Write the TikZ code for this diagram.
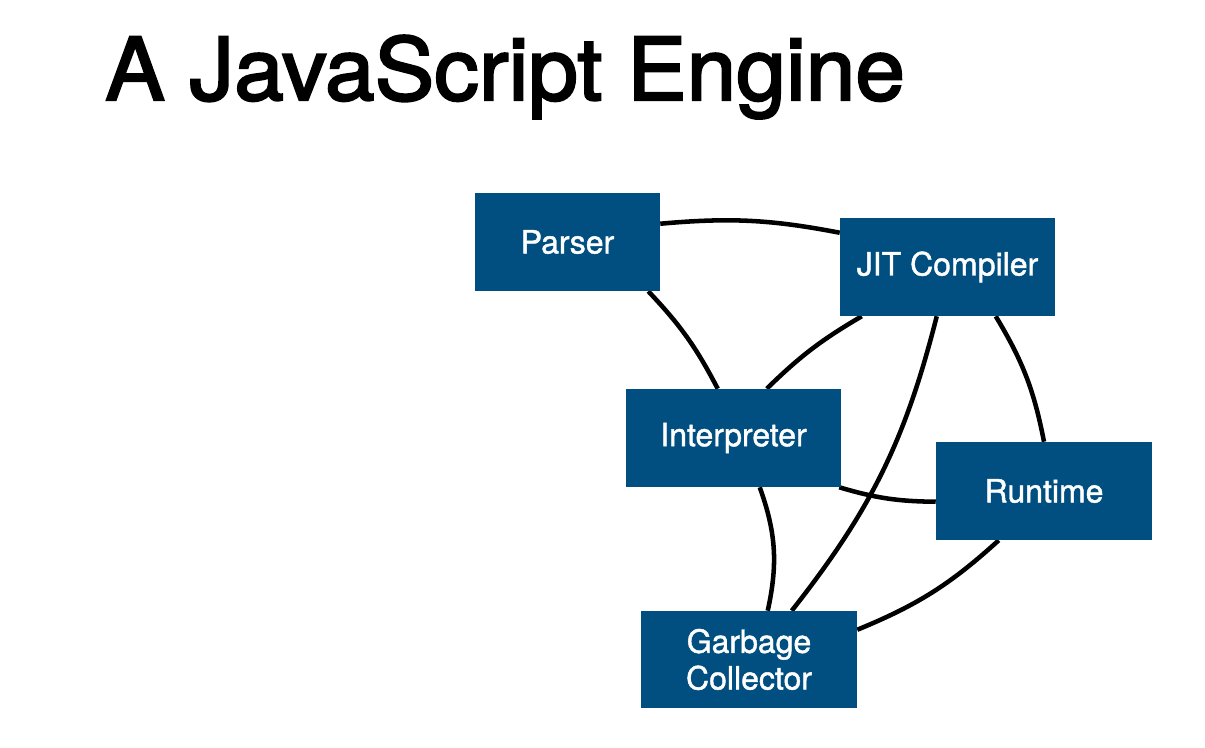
\documentclass[tikz,border=0pt]{standalone}
\usepackage{fontspec}
\setmainfont{TeX Gyre Heros}
\newfontfamily\titlefont[FakeBold=2.5,FakeStretch=1.03]{TeX Gyre Heros}
\newfontfamily\boxfont[FakeBold=1.3]{TeX Gyre Heros}
\usetikzlibrary{calc,backgrounds}
\definecolor{boxblue}{RGB}{0,79,128}
\tikzset{
  comp/.style={fill=boxblue, text=white, font=\boxfont\fontsize{24pt}{27.5pt}\selectfont,
    align=center, inner sep=0pt, minimum height=73.5pt},
  link/.style={line width=3.4pt, black}
}
\begin{document}
\begin{tikzpicture}[x=0.75pt,y=0.75pt]
\useasboundingbox (0,0) rectangle (1205,-748);
\node[anchor=base west, inner sep=0pt, font=\titlefont\fontsize{65pt}{70pt}\selectfont] (title) at (105,-100) {A JavaScript Engine};
\node[comp, minimum width=138.75pt] (parser) at (567.5,-242) {\raisebox{-1.5pt}{Parser}};
\node[comp, minimum width=161.25pt] (jit) at (947.5,-267) {\raisebox{-1.5pt}{JIT Compiler}};
\node[comp, minimum width=161.25pt] (interp) at (733.5,-438) {\raisebox{-1.5pt}{Interpreter}};
\node[comp, minimum width=162pt] (runtime) at (1044,-491) {\raisebox{-1.5pt}{Runtime}};
\node[comp, minimum width=162pt, minimum height=72.75pt] (gc) at (749,-659.5) {Garbage\\Collector};
\begin{pgfonlayer}{background}
\draw[link] ($(parser.north east)+(0,-31)$) to[bend left=8] ($(jit.north west)+(0,-15)$);
\draw[link] ($(parser.south east)+(-12,0)$) to[bend left=8] ($(interp.north west)+(92,0)$);
\draw[link] ($(jit.south west)+(22,0)$) to[bend right=7] ($(interp.north west)+(141,0)$);
\draw[link] ($(jit.south west)+(156,0)$) to[bend left=10] (runtime.north);
\draw[link] ($(jit.south west)+(97,0)$) to[bend left=12] ($(gc.north west)+(151,0)$);
\draw[link] ($(interp.south east)+(-2,0)$) to[bend right=8] ($(runtime.north west)+(0,-60)$);
\draw[link] ($(interp.south west)+(134,0)$) to[bend left=16] ($(gc.north west)+(127,0)$);
\draw[link] ($(runtime.south west)+(63,0)$) to[bend left=10] ($(gc.north east)+(0,-19)$);
\end{pgfonlayer}
\end{tikzpicture}
\end{document}
